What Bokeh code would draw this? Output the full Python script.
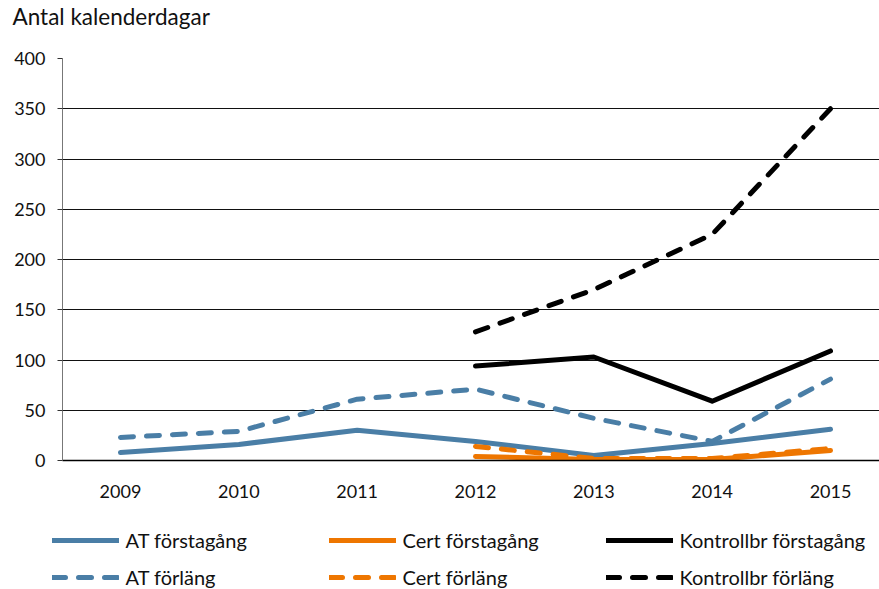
from bokeh.plotting import figure
from bokeh.models import Legend, LegendItem, FixedTicker, Range1d
from bokeh.layouts import column, row
from bokeh.embed import file_html
from bokeh.resources import INLINE

years_all = [2009, 2010, 2011, 2012, 2013, 2014, 2015]
years_late = [2012, 2013, 2014, 2015]
at_forst = [8, 16, 30, 19, 5, 17, 31]
at_forl = [23, 29, 61, 71, 42, 19, 81]
cert_forst = [4, 1, 1, 10]
cert_forl = [14, 2, 2, 12]
kontroll_forst = [94, 103, 59, 109]
kontroll_forl = [128, 170, 225, 350]
y_ticks = [0, 50, 100, 150, 200, 250, 300, 350, 400]

BLUE = "#4A7EA6"
ORANGE = "#EE7600"
BLACK = "#000000"
FONT = "Lato"
DASH = "13 13"

# title strip
t = figure(width=879, height=48, output_backend="svg", toolbar_location=None,
           x_range=Range1d(0, 1), y_range=Range1d(0, 1),
           x_axis_location=None, y_axis_location=None,
           min_border_left=0, min_border_right=0, min_border_top=18, min_border_bottom=0)
t.outline_line_color = None
t.grid.grid_line_color = None
t.title.text = "Antal kalenderdagar"
t.title.text_font = FONT
t.title.text_font_size = "22.5px"
t.title.text_font_style = "normal"
t.title.text_color = "#111111"
t.title.align = "left"
t.title.offset = -50
t.title.standoff = 0

p = figure(width=879, height=452, output_backend="svg", toolbar_location=None,
           title_location=None,
           x_range=Range1d(2008.51, 2015.414), y_range=Range1d(0, 400),
           min_border_left=62, min_border_right=0, min_border_top=10, min_border_bottom=38)
p.outline_line_color = None
p.xgrid.grid_line_color = None
p.ygrid.grid_line_color = "#111111"
p.ygrid.grid_line_width = 1
p.ygrid.ticker = FixedTicker(ticks=y_ticks)

p.yaxis.ticker = FixedTicker(ticks=y_ticks)
p.yaxis.axis_line_color = "#777777"
p.yaxis.major_tick_line_color = "#333333"
p.yaxis.major_tick_out = 5
p.yaxis.major_tick_in = 0
p.yaxis.minor_tick_line_color = None
p.yaxis.major_label_standoff = 12
p.yaxis.major_label_text_font = FONT
p.yaxis.major_label_text_font_size = "18px"
p.yaxis.major_label_text_color = "#111111"

p.xaxis.ticker = FixedTicker(ticks=years_all)
p.xaxis.major_label_overrides = {y: str(y) for y in years_all}
p.xaxis.axis_line_color = "#000000"
p.xaxis.axis_line_width = 1.5
p.xaxis.major_tick_line_color = None
p.xaxis.minor_tick_line_color = None
p.xaxis.major_label_standoff = 18
p.xaxis.major_label_text_font = FONT
p.xaxis.major_label_text_font_size = "18px"
p.xaxis.major_label_text_color = "#111111"

kw = dict(line_width=5, line_cap="round", line_join="round")
p.line(years_all, at_forst, line_color=BLUE, **kw)
p.line(years_all, at_forl, line_color=BLUE, line_dash=DASH, **kw)
p.line(years_late, cert_forst, line_color=ORANGE, **kw)
p.line(years_late, cert_forl, line_color=ORANGE, line_dash=DASH, **kw)
p.line(years_late, kontroll_forst, line_color=BLACK, **kw)
p.line(years_late, kontroll_forl, line_color=BLACK, line_dash=DASH, **kw)

# legend strip (dummy off-range points so legend glyphs render)
lg = figure(width=879, height=89, output_backend="svg", toolbar_location=None,
            title_location=None,
            x_range=Range1d(0, 1), y_range=Range1d(0, 1),
            x_axis_location=None, y_axis_location=None,
            min_border_left=0, min_border_right=0, min_border_top=0, min_border_bottom=0)
lg.outline_line_color = None
lg.grid.grid_line_color = None
dx = [-5, -4]
dy = [-5, -4]
l_atf = lg.line(dx, dy, line_color=BLUE, **kw)
l_atl = lg.line(dx, dy, line_color=BLUE, line_dash=DASH, **kw)
l_cf = lg.line(dx, dy, line_color=ORANGE, **kw)
l_cl = lg.line(dx, dy, line_color=ORANGE, line_dash=DASH, **kw)
l_kf = lg.line(dx, dy, line_color=BLACK, **kw)
l_kl = lg.line(dx, dy, line_color=BLACK, line_dash=DASH, **kw)

legend = Legend(items=[
    LegendItem(label="AT förstagång", renderers=[l_atf]),
    LegendItem(label="AT förläng", renderers=[l_atl]),
    LegendItem(label="Cert förstagång", renderers=[l_cf]),
    LegendItem(label="Cert förläng", renderers=[l_cl]),
    LegendItem(label="Kontrollbr förstagång", renderers=[l_kf]),
    LegendItem(label="Kontrollbr förläng", renderers=[l_kl]),
], ncols=3, location=(51.5, 0))
legend.glyph_width = 67
legend.glyph_height = 24
legend.label_height = 24
legend.label_width = 190
legend.label_standoff = 7
legend.spacing = 13
legend.padding = 0
legend.margin = 0
legend.border_line_color = None
legend.background_fill_alpha = 0
legend.label_text_font = FONT
legend.label_text_font_size = "20px"
legend.label_text_color = "#111111"
lg.add_layout(legend, "center")

open("out.html", "w").write(file_html(column(t, p, row(lg), spacing=0), INLINE))
